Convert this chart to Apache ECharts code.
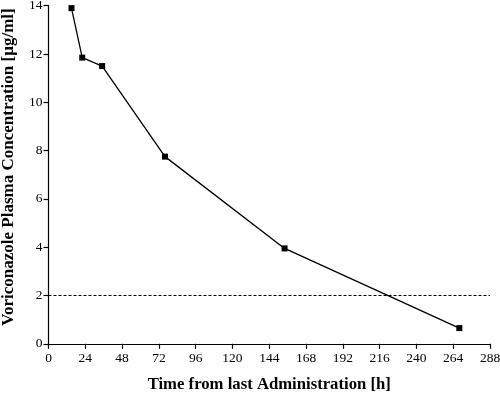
<!DOCTYPE html>
<html><head><meta charset="utf-8">
<script src="https://cdn.jsdelivr.net/npm/echarts@6/dist/echarts.min.js"></script>
<style>html,body{margin:0;padding:0;background:#fff}#c{width:500px;height:395px}</style>
</head><body><div id="c"></div>
<script>
const timeHours = [15, 22, 35, 76, 154, 268];
const concentration = [13.9, 11.85, 11.5, 7.75, 3.95, 0.65];
const thresholdValue = 2;
const xTicks = [0, 24, 48, 72, 96, 120, 144, 168, 192, 216, 240, 264, 288];
const yTicks = [0, 2, 4, 6, 8, 10, 12, 14];
const xTitle = 'Time from last Administration [h]';
const yTitle = 'Voriconazole Plasma Concentration [µg/ml]';

const font = '"Liberation Serif", "DejaVu Serif", serif';
const chart = echarts.init(document.getElementById('c'), null, {renderer: 'canvas'});
chart.setOption({
  animation: false,
  backgroundColor: '#fff',
  grid: {left: 48.5, right: 10, top: 5.7, bottom: 51.2, containLabel: false, outerBoundsMode: 'none'},
  graphic: [{
    type: 'text', x: 9, y: 167, rotation: Math.PI / 2,
    style: {text: yTitle, fontFamily: font, fontWeight: 'bold', fontSize: 17, fill: '#000',
            align: 'center', verticalAlign: 'middle'}
  }],
  xAxis: {
    type: 'value', min: xTicks[0], max: xTicks[xTicks.length-1], interval: 24,
    name: xTitle, nameLocation: 'middle', nameGap: 32,
    nameTextStyle: {fontFamily: font, fontWeight: 'bold', fontSize: 16.7, color: '#000'},
    axisLine: {show: true, onZero: false, lineStyle: {color: '#000', width: 1.2}},
    axisTick: {show: true, length: 5, lineStyle: {color: '#000', width: 1.2}},
    axisLabel: {fontFamily: font, fontSize: 13.5, color: '#000', margin: 8},
    splitLine: {show: false}
  },
  yAxis: {
    type: 'value', min: yTicks[0], max: yTicks[yTicks.length-1], interval: 2,
    axisLine: {show: true, lineStyle: {color: '#000', width: 1.2}},
    axisTick: {show: true, length: 5, lineStyle: {color: '#000', width: 1.2}},
    axisLabel: {fontFamily: font, fontSize: 13.5, color: '#000', margin: 6},
    splitLine: {show: false}
  },
  series: [{
    type: 'line',
    data: timeHours.map((t, i) => [t, concentration[i]]),
    symbol: 'rect', symbolSize: 6,
    lineStyle: {color: '#000', width: 1.3},
    itemStyle: {color: '#000'},
    markLine: {
      silent: true, symbol: ['none', 'none'], label: {show: false},
      lineStyle: {color: '#000', type: [3, 2], width: 1},
      data: [{yAxis: thresholdValue}]
    }
  }]
});
</script></body></html>
